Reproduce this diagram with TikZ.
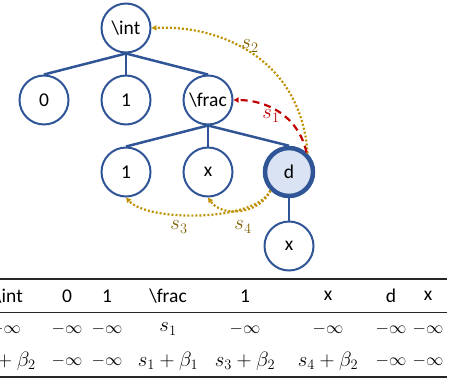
\documentclass[tikz,border=0pt]{standalone}
\usepackage{fontspec}
\setmainfont{Carlito}
\usetikzlibrary{arrows.meta}
\definecolor{nodeblue}{HTML}{2F5597}
\definecolor{nodefill}{HTML}{DAE3F3}
\definecolor{gold}{HTML}{BF9000}
\definecolor{goldlabel}{HTML}{7F6000}
\definecolor{darkred}{HTML}{C00000}
\newcommand\mytxt{\fontsize{19.5}{22}\selectfont}
\newcommand\mymath{\fontsize{21}{25}\selectfont}
\newcommand\myinf{\fontsize{17.5}{21}\selectfont}
\tikzset{
  treenode/.style={circle, draw=nodeblue, line width=2pt, minimum size=49pt, inner sep=0pt, font=\mytxt},
  selnode/.style={treenode, fill=nodefill, line width=4.5pt, minimum size=48pt},
  treeedge/.style={draw=nodeblue, line width=2.5pt},
  golddot/.style={draw=gold, line width=2.2pt, dash pattern=on 2pt off 2pt, -{Triangle[length=5pt,width=5pt]}},
  reddash/.style={draw=darkred, line width=2.2pt, dash pattern=on 7pt off 5pt, -{Triangle[length=5pt,width=5pt]}},
  lbl/.style={inner sep=0pt, font=\mymath},
  cell/.style={inner sep=0pt, font=\mytxt},
  mcell/.style={inner sep=0pt, font=\mymath},
  icell/.style={inner sep=0pt, font=\myinf},
  rule/.style={draw=black!85, line width=1.6pt}
}
\begin{document}
\begin{tikzpicture}[x=1pt,y=-1pt]
\useasboundingbox (0,0) rectangle (454,381);
\clip (0,0) rectangle (454,381);
% tree
\node[treenode] (int) at (126,28) {\textbackslash int};
\node[treenode] (n0) at (44,100) {0};
\node[treenode] (n1) at (126,100) {1};
\node[treenode] (frac) at (208,100) {\textbackslash frac};
\node[treenode] (m1) at (126,172) {1};
\node[treenode] (mx) at (208,172) {x};
\node[selnode] (d) at (289,172) {d};
\node[treenode] (dx) at (289,246) {x};
\draw[treeedge] (int.south) -- (n0.north);
\draw[treeedge] (int.south) -- (n1.north);
\draw[treeedge] (int.south) -- (frac.north);
\draw[treeedge] (frac.south) -- (m1.north);
\draw[treeedge] (frac.south) -- (mx.north);
\draw[treeedge] (frac.south) -- (d.north);
\draw[treeedge] (d.south) -- (dx.north);
% score arrows
\draw[golddot] (d.45) .. controls (301,60) and (222,25) .. (int.east);
\draw[reddash] (d.48) .. controls (298,115) and (266,100) .. (frac.east);
\draw[golddot] (d.225) .. controls (255,222) and (148,222) .. (m1.south);
\draw[golddot] (d.225) .. controls (260,214) and (222,218) .. (mx.south);
\node[lbl, text=goldlabel] (ls2) at (250,46) {$s_2$};
\node[lbl, text=darkred] (ls1) at (271,116) {$s_1$};
\node[lbl, text=goldlabel] (ls3) at (179,227) {$s_3$};
\node[lbl, text=goldlabel] (ls4) at (243,227) {$s_4$};
% table
\draw[rule] (0,279) -- (447,279);
\draw[rule, line width=1.3pt] (0,312.5) -- (447,312.5);
\draw[rule] (0,377) -- (447,377);
\node[cell, anchor=east] (h1) at (23,296) {\textbackslash int};
\node[cell] (h2) at (67,296) {0};
\node[cell] (h3) at (107,296) {1};
\node[cell] (h4) at (168,296) {\textbackslash frac};
\node[cell] (h5) at (245,296) {1};
\node[cell] (h6) at (328,296) {x};
\node[cell] (h7) at (391,296) {d};
\node[cell] (h8) at (428,296) {x};
\node[icell, anchor=east] (a1) at (21,329) {$-\infty$};
\node[icell] (a2) at (67,329) {$-\infty$};
\node[icell] (a3) at (107,329) {$-\infty$};
\node[mcell] (a4) at (168,329) {$s_1$};
\node[icell] (a5) at (245,329) {$-\infty$};
\node[icell] (a6) at (328,329) {$-\infty$};
\node[icell] (a7) at (391,329) {$-\infty$};
\node[icell] (a8) at (428,329) {$-\infty$};
\node[mcell, anchor=east] (b1) at (36,361) {$s_2+\beta_2$};
\node[icell] (b2) at (67,361) {$-\infty$};
\node[icell] (b3) at (107,361) {$-\infty$};
\node[mcell] (b4) at (168,361) {$s_1+\beta_1$};
\node[mcell] (b5) at (245,361) {$s_3+\beta_2$};
\node[mcell] (b6) at (328,361) {$s_4+\beta_2$};
\node[icell] (b7) at (391,361) {$-\infty$};
\node[icell] (b8) at (428,361) {$-\infty$};
\end{tikzpicture}
\end{document}
